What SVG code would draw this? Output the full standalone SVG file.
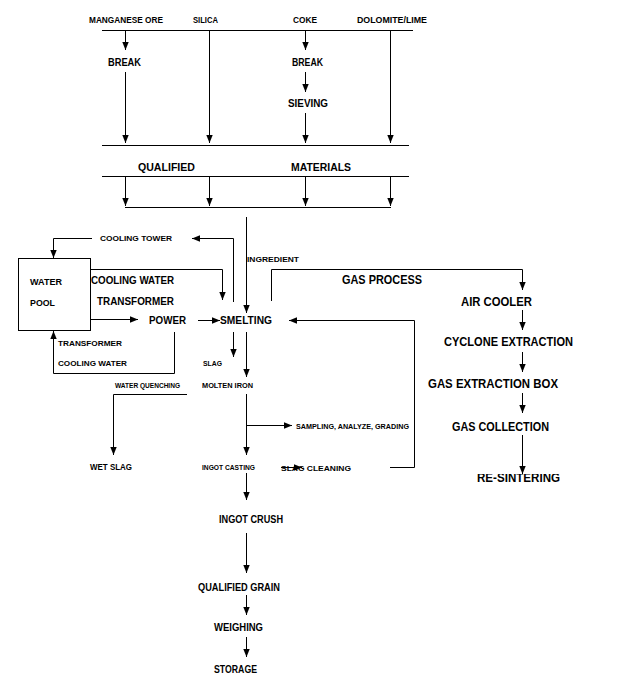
<svg xmlns="http://www.w3.org/2000/svg" width="622" height="698" viewBox="0 0 622 698">
<style>
text{font-family:"Liberation Sans",Arial,sans-serif;font-weight:bold;fill:#000;}
.s{font-size:8px}
.t{font-size:9px}
.m{font-size:10.5px}
.l{font-size:11.5px}
.xl{font-size:13px}
.c line,.c polyline,.c rect{stroke:#000;stroke-width:1;fill:none}
.c .a{marker-end:url(#ah)}
</style>
<defs>
<marker id="ah" viewBox="0 0 10 10" refX="10" refY="5" markerWidth="8" markerHeight="8" markerUnits="userSpaceOnUse" orient="auto"><path d="M0,1 L10,5 L0,9 z" fill="#000"/></marker>
<clipPath id="cut"><rect x="470" y="474" width="100" height="20"/></clipPath>
</defs>
<rect width="622" height="698" fill="#fff"/>
<g class="c" id="connectors">
<line x1="102" y1="30.5" x2="413" y2="30.5"/>
<line class="a" x1="125.5" y1="30" x2="125.5" y2="50"/>
<line class="a" x1="125.5" y1="72" x2="125.5" y2="143"/>
<line class="a" x1="209.5" y1="30" x2="209.5" y2="143"/>
<line class="a" x1="305.5" y1="30" x2="305.5" y2="50"/>
<line class="a" x1="305.5" y1="72" x2="305.5" y2="92"/>
<line class="a" x1="305.5" y1="113" x2="305.5" y2="143"/>
<line class="a" x1="390.5" y1="30" x2="390.5" y2="143"/>
<line x1="102" y1="145.5" x2="409" y2="145.5"/>
<line x1="102" y1="176.5" x2="409" y2="176.5"/>
<line class="a" x1="125.5" y1="176" x2="125.5" y2="206"/>
<line class="a" x1="209.5" y1="176" x2="209.5" y2="206"/>
<line class="a" x1="305.5" y1="176" x2="305.5" y2="206"/>
<line class="a" x1="390.5" y1="176" x2="390.5" y2="206"/>
<line x1="125" y1="207.5" x2="391" y2="207.5"/>
<line class="a" x1="246.5" y1="217" x2="246.5" y2="313"/>
<polyline class="a" points="233.5,302 233.5,238.5 192,238.5"/>
<polyline class="a" points="92,238.5 53.5,238.5 53.5,258"/>
<polyline class="a" points="90,269.5 222.5,269.5 222.5,300"/>
<line class="a" x1="90" y1="319.5" x2="138" y2="319.5"/>
<line class="a" x1="198" y1="320.5" x2="220" y2="320.5"/>
<polyline class="a" points="174.5,332 174.5,373.5 53.5,373.5 53.5,331"/>
<line class="a" x1="233.5" y1="332" x2="233.5" y2="357"/>
<line class="a" x1="246.5" y1="332" x2="246.5" y2="377"/>
<polyline class="a" points="271.5,301 271.5,269.5 522.5,269.5 522.5,290"/>
<line class="a" x1="522.5" y1="310" x2="522.5" y2="330"/>
<line class="a" x1="522.5" y1="352" x2="522.5" y2="372"/>
<line class="a" x1="522.5" y1="393" x2="522.5" y2="413"/>
<line class="a" x1="522.5" y1="435" x2="522.5" y2="474"/>
<polyline class="a" points="390,467.5 414.5,467.5 414.5,320.5 289,320.5"/>
<polyline class="a" points="187,394.5 113.5,394.5 113.5,455"/>
<line class="a" x1="246.5" y1="394" x2="246.5" y2="455"/>
<line class="a" x1="246" y1="425.5" x2="292" y2="425.5"/>
<line class="a" x1="281" y1="467.5" x2="302" y2="467.5"/>
<line class="a" x1="246.5" y1="473" x2="246.5" y2="500"/>
<line class="a" x1="246.5" y1="533" x2="246.5" y2="573"/>
<line class="a" x1="246.5" y1="595" x2="246.5" y2="615"/>
<line class="a" x1="246.5" y1="637" x2="246.5" y2="657"/>
</g>
<g id="manganese-ore"><text class="t" x="89" y="23" textLength="74" lengthAdjust="spacingAndGlyphs">MANGANESE ORE</text></g>
<g id="silica"><text class="t" x="193" y="23" textLength="25" lengthAdjust="spacingAndGlyphs">SILICA</text></g>
<g id="coke"><text class="t" x="293" y="23" textLength="24" lengthAdjust="spacingAndGlyphs">COKE</text></g>
<g id="dolomite-lime"><text class="t" x="357" y="23" textLength="70" lengthAdjust="spacingAndGlyphs">DOLOMITE/LIME</text></g>
<g id="break-1"><text class="m" x="108" y="66" textLength="33" lengthAdjust="spacingAndGlyphs">BREAK</text></g>
<g id="break-2"><text class="m" x="292" y="66" textLength="31" lengthAdjust="spacingAndGlyphs">BREAK</text></g>
<g id="sieving"><text class="m" x="288" y="107" textLength="40" lengthAdjust="spacingAndGlyphs">SIEVING</text></g>
<g id="qualified-materials">
<text class="m" x="138" y="171" textLength="57" lengthAdjust="spacingAndGlyphs">QUALIFIED</text>
<text class="m" x="291" y="171" textLength="60" lengthAdjust="spacingAndGlyphs">MATERIALS</text>
</g>
<g id="cooling-tower"><text class="s" x="100" y="241" textLength="72" lengthAdjust="spacingAndGlyphs">COOLING TOWER</text></g>
<g id="ingredient"><text class="s" x="247" y="262" textLength="52" lengthAdjust="spacingAndGlyphs">INGREDIENT</text></g>
<g id="water-pool">
<rect x="18.5" y="258.5" width="72" height="72" fill="none" stroke="#000"/>
<text class="t" x="30" y="284.5" textLength="32" lengthAdjust="spacingAndGlyphs">WATER</text>
<text class="t" x="30" y="305.5" textLength="25" lengthAdjust="spacingAndGlyphs">POOL</text>
</g>
<g id="cooling-water-transformer">
<text class="l" x="91" y="284" textLength="83" lengthAdjust="spacingAndGlyphs">COOLING WATER</text>
<text class="l" x="97" y="305" textLength="77" lengthAdjust="spacingAndGlyphs">TRANSFORMER</text>
</g>
<g id="power"><text class="l" x="149" y="324" textLength="37" lengthAdjust="spacingAndGlyphs">POWER</text></g>
<g id="smelting"><text class="l" x="220" y="324" textLength="52" lengthAdjust="spacingAndGlyphs">SMELTING</text></g>
<g id="transformer-cooling-water">
<text class="s" x="58" y="346" textLength="64" lengthAdjust="spacingAndGlyphs">TRANSFORMER</text>
<text class="s" x="58" y="366" textLength="69" lengthAdjust="spacingAndGlyphs">COOLING WATER</text>
</g>
<g id="slag"><text class="s" x="203" y="366" textLength="19" lengthAdjust="spacingAndGlyphs">SLAG</text></g>
<g id="gas-process"><text class="xl" x="342" y="283.5" textLength="80" lengthAdjust="spacingAndGlyphs">GAS PROCESS</text></g>
<g id="air-cooler"><text class="xl" x="461" y="305.5" textLength="71" lengthAdjust="spacingAndGlyphs">AIR COOLER</text></g>
<g id="cyclone-extraction"><text class="xl" x="444" y="345.5" textLength="129" lengthAdjust="spacingAndGlyphs">CYCLONE EXTRACTION</text></g>
<g id="gas-extraction-box"><text class="xl" x="428" y="387.5" textLength="130" lengthAdjust="spacingAndGlyphs">GAS EXTRACTION BOX</text></g>
<g id="gas-collection"><text class="xl" x="452" y="430.5" textLength="97" lengthAdjust="spacingAndGlyphs">GAS COLLECTION</text></g>
<g id="re-sintering"><text class="xl" x="477" y="481.5" font-size="14" textLength="83" lengthAdjust="spacingAndGlyphs" clip-path="url(#cut)">RE-SINTERING</text></g>
<g id="water-quenching"><text class="s" x="115" y="388" font-size="7.5" textLength="65" lengthAdjust="spacingAndGlyphs">WATER QUENCHING</text></g>
<g id="molten-iron"><text class="s" x="202" y="388" textLength="51" lengthAdjust="spacingAndGlyphs">MOLTEN IRON</text></g>
<g id="sampling"><text class="s" x="296" y="429" textLength="113" lengthAdjust="spacingAndGlyphs">SAMPLING, ANALYZE, GRADING</text></g>
<g id="wet-slag"><text class="t" x="90" y="469.5" textLength="42" lengthAdjust="spacingAndGlyphs">WET SLAG</text></g>
<g id="ingot-casting"><text class="s" x="202" y="470" textLength="53" lengthAdjust="spacingAndGlyphs">INGOT CASTING</text></g>
<g id="slag-cleaning"><text class="s" x="281" y="470.5" textLength="70" lengthAdjust="spacingAndGlyphs">SLAG CLEANING</text></g>
<g id="ingot-crush"><text class="m" x="219" y="523" textLength="64" lengthAdjust="spacingAndGlyphs">INGOT CRUSH</text></g>
<g id="qualified-grain"><text class="m" x="198" y="591" textLength="82" lengthAdjust="spacingAndGlyphs">QUALIFIED GRAIN</text></g>
<g id="weighing"><text class="m" x="214" y="631" textLength="49" lengthAdjust="spacingAndGlyphs">WEIGHING</text></g>
<g id="storage"><text class="m" x="214" y="673" textLength="43" lengthAdjust="spacingAndGlyphs">STORAGE</text></g>
</svg>
